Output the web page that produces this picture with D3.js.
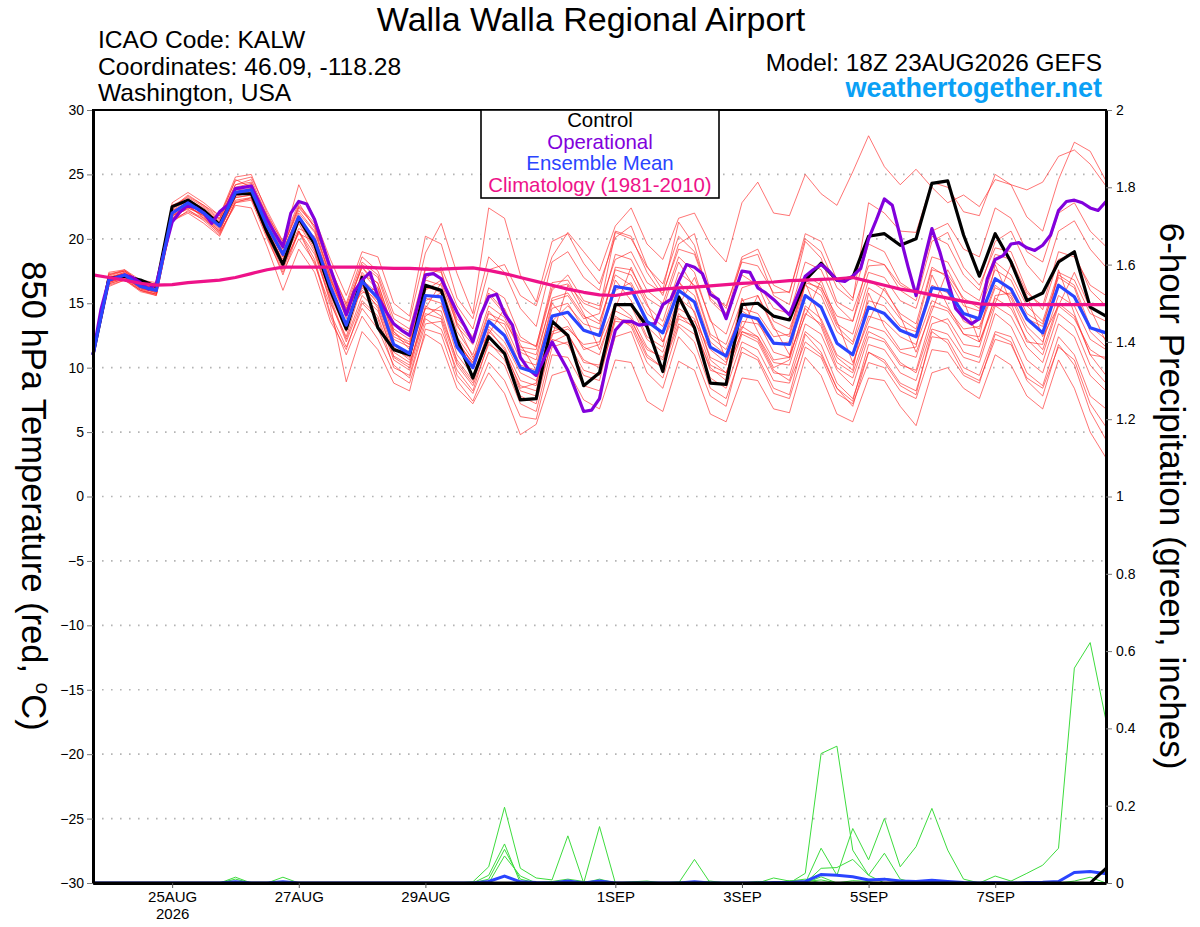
<!DOCTYPE html>
<html>
<head>
<meta charset="utf-8">
<script src="https://cdn.jsdelivr.net/npm/d3@7"></script>
<style>
  body { margin: 0; background: #fff; }
  svg { display: block; font-family: 'Liberation Sans', Arial, Helvetica, sans-serif; }
</style>
</head>
<body>
<div id="chart"></div>
<script>
// GEFS run 18Z 23AUG2026, 6-hourly out to 384 h (operational is 3-hourly)
const runStart = Date.UTC(2026, 7, 23, 18);

const controlTemp = [11.0,16.9,17.1,16.8,16.3,22.5,23.0,22.2,21.1,23.5,
  23.5,20.5,18.0,21.6,19.6,16.0,13.0,17.0,13.1,11.4,
  11.0,16.4,16.0,12.2,9.2,12.4,11.1,7.5,7.6,13.6,
  12.5,8.6,9.6,14.9,14.9,13.2,9.7,15.5,13.1,8.8,
  8.7,14.9,15.0,14.0,13.7,16.8,18.1,16.8,17.0,20.2,
  20.4,19.5,20.0,24.3,24.5,20.3,17.1,20.4,18.2,15.2,
  15.8,18.2,19.0,14.7,14.0];

const operationalTemp = [11.0,14.5,16.8,17.0,17.2,17.0,16.6,16.1,16.5,19.0,
  21.3,22.1,22.6,22.4,22.0,21.2,22.1,22.6,23.9,24.0,
  24.1,22.8,21.5,20.4,19.4,22.0,22.9,22.7,21.5,19.6,
  17.7,15.9,14.1,15.9,16.8,17.4,15.5,14.4,13.4,12.9,
  12.5,14.8,17.2,17.3,16.9,15.6,14.3,13.2,12.0,14.1,
  15.5,15.7,14.2,13.3,10.8,9.9,9.4,10.7,12.0,10.9,
  9.8,8.2,6.6,6.7,7.6,10.5,12.9,13.6,13.6,13.3,
  13.4,13.4,14.9,15.3,16.7,18.0,17.8,17.3,15.7,15.3,
  13.8,15.7,17.5,17.4,16.2,15.8,15.3,14.7,14.1,15.6,
  17.1,17.6,18.0,17.5,16.8,16.7,17.1,17.7,20.0,21.5,
  23.1,22.6,20.2,17.8,15.6,18.3,20.8,19.0,16.8,14.6,
  13.9,13.4,13.8,16.9,18.4,18.7,19.6,19.7,19.3,19.1,
  19.5,20.3,22.2,22.9,23.0,22.8,22.4,22.2,22.9];

const meanTemp = [11.0,16.8,17.2,16.3,16.0,22.0,22.8,22.0,21.0,23.6,
  23.8,21.0,18.8,21.7,19.9,16.3,13.3,16.7,15.4,11.8,
  11.1,15.6,15.5,11.6,10.0,13.6,12.5,10.0,9.6,14.0,
  14.3,12.9,12.5,16.3,16.1,13.6,12.7,16.0,15.1,11.6,
  10.9,14.1,13.8,11.9,11.8,15.6,14.7,11.9,11.0,14.7,
  14.2,12.9,12.4,16.2,16.0,14.2,13.8,16.9,16.1,13.8,
  12.7,16.4,15.5,13.1,12.7];

const climoTemp = [17.2,17.0,16.8,16.55,16.4,16.45,16.6,16.7,16.8,17.0,
  17.3,17.6,17.8,17.8,17.8,17.8,17.8,17.8,17.75,17.7,
  17.7,17.65,17.65,17.7,17.75,17.55,17.3,17.0,16.7,16.4,
  16.1,15.85,15.65,15.6,15.8,15.95,16.1,16.2,16.25,16.35,
  16.45,16.55,16.6,16.65,16.75,16.8,16.85,16.9,17.0,16.7,
  16.4,16.1,15.9,15.65,15.4,15.15,14.95,14.9,14.9,14.9,
  14.9,14.9,14.9,14.9,14.9];

const memberTemps = [
  [11.2,17.2,17.6,16.6,16.3,22.6,23.2,22.5,21.5,24.2, 24.4,21.5,19.3,22.5,21.0,17.4,14.5,17.8,16.5,13.0,
   12.2,17.8,17.5,13.5,12.0,15.8,14.4,12.1,11.7,16.2, 16.5,15.0,14.5,20.5,20.0,17.8,16.5,20.2,19.0,15.6,
   14.8,18.2,17.9,15.8,15.9,20.0,19.0,16.2,15.2,22.8, 22.0,20.6,20.5,24.4,24.0,22.1,21.8,25.0,24.2,21.7,
   20.6,24.6,27.5,26.8,24.5],
  [10.8,16.6,17.0,16.2,15.8,21.8,22.6,21.6,20.6,23.4, 23.9,21.3,19.4,22.4,21.0,17.6,15.0,18.6,17.5,14.2,
   13.6,18.9,21.2,17.3,14.2,22.4,21.6,17.2,15.1,19.8, 20.4,18.1,16.5,20.1,21.0,17.9,16.0,21.3,19.5,15.2,
   14.0,18.4,18.8,15.6,14.9,19.8,18.5,15.1,14.4,17.9, 18.0,16.0,15.2,19.8,20.5,17.8,16.4,19.3,19.0,16.0,
   14.5,18.4,18.9,16.0,14.8],
  [11.1,17.0,17.4,16.4,16.1,22.3,23.1,22.3,21.3,24.0, 24.3,21.8,19.8,22.8,20.8,17.0,14.4,18.0,17.0,13.4,
   12.8,16.9,17.8,14.8,13.0,17.6,18.0,15.6,14.8,18.6, 20.5,19.0,17.5,21.0,22.4,19.6,18.4,21.6,22.0,19.6,
   18.2,22.8,24.4,22.0,21.8,25.0,23.5,22.6,25.2,28.0, 25.6,24.2,25.4,24.0,22.8,23.4,22.5,24.6,24.2,23.8,
   24.4,26.4,26.9,25.8,24.1],
  [10.7,16.3,16.8,16.0,15.7,21.3,22.2,21.6,20.4,22.8, 23.0,20.0,17.4,20.0,18.2,14.0,11.0,14.0,12.2,9.6,
   8.8,12.6,11.8,8.4,7.2,9.6,8.0,4.8,5.6,9.4, 9.8,7.5,6.8,10.6,10.4,7.4,6.6,10.5,9.8,6.4,
   5.8,9.2,9.0,6.8,6.5,10.8,9.4,6.4,5.8,9.2, 9.0,7.0,5.5,9.6,10.0,8.4,7.6,11.0,10.2,7.8,
   6.8,10.6,8.4,5.0,3.0],
  [10.9,16.5,16.9,16.0,15.6,21.6,22.4,21.8,20.8,23.0, 23.2,20.4,17.8,20.6,18.0,14.8,8.9,12.8,11.4,8.8,
   8.2,13.0,12.6,9.0,7.4,10.4,9.0,6.2,6.0,11.0, 10.8,8.6,8.2,12.4,12.8,9.6,8.4,12.4,11.0,7.8,
   7.0,11.6,10.8,8.4,7.9,12.6,11.2,8.4,7.0,11.2, 10.4,8.6,7.9,12.8,11.9,9.6,9.0,12.2,11.8,9.2,
   8.4,11.6,10.6,7.2,5.4],
  [11.0,17.0,17.3,16.5,16.2,22.0,22.9,22.1,21.2,23.8, 24.2,21.2,19.0,22.0,20.5,17.0,13.8,17.4,16.0,12.6,
   12.0,16.8,16.4,12.8,11.0,14.8,13.9,11.2,10.6,15.4, 15.8,14.0,13.4,17.6,17.2,14.8,13.6,17.4,16.4,12.6,
   11.8,15.2,15.6,13.0,12.4,16.8,16.0,13.2,12.0,16.2, 15.4,13.8,13.0,17.6,17.2,15.4,14.6,18.2,17.2,14.8,
   13.6,17.4,16.8,14.2,13.6],
  [10.9,16.6,17.0,16.1,15.9,21.8,22.5,21.8,20.7,23.2, 23.4,20.6,18.4,21.2,19.0,15.4,12.2,15.6,14.4,10.9,
   10.2,14.6,14.4,10.4,8.8,12.4,11.2,8.6,8.2,12.8, 13.2,11.6,11.0,15.0,14.8,12.2,11.2,14.6,13.8,10.2,
   9.6,12.8,12.4,10.4,10.2,14.2,13.4,10.4,9.6,13.2, 12.8,11.2,10.8,14.8,14.4,12.6,12.0,15.4,14.6,12.2,
   11.0,14.8,13.8,11.4,10.6],
  [11.1,17.3,17.5,16.6,16.0,21.6,22.4,21.9,21.6,24.6, 24.0,20.8,18.2,20.8,20.2,16.8,14.2,15.8,16.2,12.8,
   11.4,14.6,16.6,13.4,10.8,12.6,14.6,11.8,9.8,12.4, 16.4,14.2,11.4,14.6,17.8,15.0,12.0,14.8,17.0,13.8,
   10.6,13.0,15.6,13.2,11.0,14.0,16.8,13.6,10.4,13.6, 16.2,14.0,11.2,14.4,17.6,15.2,12.0,15.0,18.0,15.6,
   12.4,14.8,17.4,14.6,12.0],
  [11.0,16.9,17.4,16.6,16.4,22.4,23.4,22.6,21.8,24.5, 24.8,22.2,19.8,24.2,21.6,18.4,15.6,19.0,18.6,15.0,
   14.0,20.2,19.6,15.4,13.8,18.6,17.4,14.6,13.2,18.2, 19.0,17.0,16.0,20.6,20.2,17.4,15.6,19.6,20.4,16.0,
   14.6,18.6,19.2,16.4,15.8,20.4,19.8,16.8,15.4,19.6, 19.0,16.6,15.8,20.2,19.6,17.2,16.0,19.8,20.6,18.0,
   16.6,20.6,21.4,19.2,17.8],
  [10.8,16.4,16.8,15.9,15.6,21.4,22.0,21.2,20.2,22.8, 23.2,20.2,17.6,20.6,18.4,14.2,11.6,14.6,13.0,10.2,
   9.2,13.4,13.6,9.4,8.0,11.2,10.2,7.2,6.6,11.6, 12.0,9.8,9.4,13.6,13.4,10.8,10.0,13.8,13.2,9.8,
   9.4,13.6,13.4,11.8,12.0,16.6,16.2,14.0,13.6,18.4, 18.0,16.4,15.8,20.6,21.2,19.2,18.6,22.4,21.6,19.0,
   18.2,22.0,22.8,20.6,19.4],
  [11.2,17.1,17.5,16.7,16.4,22.8,23.6,22.8,21.8,24.8, 25.0,22.0,19.6,22.6,21.2,17.8,14.8,18.2,17.2,13.8,
   13.0,17.6,17.4,13.2,11.8,16.2,15.4,12.4,11.6,16.6, 16.8,14.6,13.6,17.2,16.4,13.2,12.0,15.4,14.4,10.6,
   9.6,12.8,12.2,9.8,9.0,12.8,11.8,8.8,7.6,11.2, 10.6,8.8,8.2,12.4,12.2,10.0,9.4,12.8,12.4,9.6,
   8.6,12.4,11.0,7.8,6.8],
  [10.9,16.8,17.1,16.2,15.8,22.2,22.7,21.9,20.9,23.3, 23.6,20.8,18.6,21.4,19.6,16.0,13.0,16.4,15.0,11.6,
   10.6,15.2,15.8,12.4,10.6,14.4,13.0,10.2,9.8,15.0, 13.6,11.4,11.8,16.8,15.2,12.4,11.6,16.8,14.2,10.8,
   10.2,15.4,12.8,10.6,10.8,16.6,13.6,10.8,9.8,15.8, 13.2,11.4,11.6,17.2,14.8,12.6,12.4,18.0,15.0,12.0,
   11.8,17.6,14.2,11.0,10.8],
  [11.0,17.4,17.6,16.8,16.6,22.6,23.0,22.0,21.0,23.9, 23.6,20.4,18.2,21.4,19.2,15.0,12.4,16.4,14.6,10.8,
   10.0,14.8,14.0,10.6,9.0,13.0,11.4,8.4,8.8,13.6, 14.8,13.4,13.0,17.8,17.6,15.4,14.6,18.2,16.2,12.4,
   11.4,14.4,13.6,11.2,10.8,14.6,13.2,10.0,9.2,12.8, 12.2,10.4,9.6,13.4,13.8,11.8,11.6,15.6,15.8,13.8,
   13.2,17.2,16.4,13.2,12.2],
  [10.8,16.7,17.0,16.1,15.7,21.8,22.3,21.4,20.3,22.9, 23.1,20.6,18.0,20.4,19.8,16.6,14.0,16.0,14.8,11.2,
   10.4,14.0,14.8,11.8,10.4,13.2,12.0,9.6,9.0,12.6, 13.0,11.8,12.0,15.0,14.0,11.6,10.6,14.0,13.6,11.4,
   10.4,13.2,12.4,10.0,10.6,14.8,13.8,11.0,10.2,14.0, 13.6,12.4,11.8,15.2,14.6,13.0,13.2,16.4,15.4,12.8,
   11.4,15.0,14.0,11.0,9.4],
  [11.1,17.0,17.3,16.4,16.2,22.2,23.0,22.4,21.4,24.0, 23.9,21.6,19.2,21.8,19.4,15.6,12.8,17.2,16.6,12.8,
   11.8,16.2,16.0,12.2,10.2,13.8,13.4,10.6,10.2,14.6, 15.0,13.0,12.4,16.0,16.6,14.2,13.2,16.6,15.6,12.0,
   11.0,14.6,14.2,12.4,12.6,17.2,16.4,13.4,12.6,16.8, 16.0,14.2,13.4,17.8,17.0,14.8,14.4,17.6,16.8,14.2,
   13.4,17.0,16.2,12.8,11.6],
  [10.9,16.6,17.2,16.3,16.0,21.9,22.6,22.1,21.1,23.4, 23.5,20.9,18.6,21.6,19.8,16.2,13.4,16.2,15.2,11.4,
   10.8,15.4,15.0,11.0,9.4,12.8,11.6,9.0,8.6,13.2, 12.6,10.4,10.2,14.4,13.8,11.0,10.0,13.4,12.6,9.2,
   8.4,12.0,11.4,9.0,8.8,12.0,11.0,8.4,7.4,11.8, 11.4,9.6,9.0,13.0,12.6,10.8,10.4,14.2,13.2,10.6,
   9.6,13.4,12.4,9.4,8.2],
  [11.0,16.9,17.2,16.4,16.1,22.0,22.8,22.2,21.2,23.8, 23.8,21.4,19.0,21.4,20.0,16.8,14.2,16.8,15.8,12.2,
   11.6,16.0,16.8,13.8,12.4,15.6,14.2,11.4,11.0,15.2, 15.6,13.8,14.2,18.8,18.4,16.0,15.0,18.6,17.4,13.6,
   12.6,16.2,16.6,14.6,14.2,18.2,17.6,14.8,13.6,17.4, 17.0,15.2,14.6,18.6,18.2,16.0,15.2,18.8,18.4,15.8,
   14.8,19.0,18.6,16.4,15.6],
  [10.8,16.5,16.9,16.0,15.7,21.5,22.1,21.5,20.5,22.6, 22.4,19.4,16.0,19.2,17.4,13.6,11.4,15.0,13.8,10.0,
   9.4,13.8,13.0,9.8,8.2,12.0,10.6,7.8,7.2,12.2, 11.8,9.4,9.0,14.0,13.2,10.4,9.2,13.2,12.0,8.4,
   7.6,11.2,10.6,8.0,7.6,11.6,10.8,8.0,7.2,10.4, 10.0,8.2,7.6,11.4,11.2,9.4,8.8,12.6,12.0,9.0,
   7.8,11.8,10.2,6.6,4.4],
  [11.1,17.2,17.5,16.6,16.3,22.4,23.3,22.6,21.6,24.2, 24.6,21.8,19.4,22.2,20.6,17.2,14.6,17.8,16.2,12.4,
   11.8,16.4,15.8,12.0,10.4,14.2,13.6,11.6,11.4,16.0, 17.2,15.2,14.8,18.4,19.0,16.6,15.8,19.2,18.8,15.4,
   14.2,17.2,16.4,13.6,13.0,16.4,15.6,12.8,11.8,15.2, 14.8,13.2,12.8,16.4,15.8,13.6,13.0,16.2,15.6,13.2,
   12.0,15.6,14.8,12.2,11.4],
  [10.9,16.8,17.0,16.2,15.9,21.7,22.6,21.7,20.6,23.2, 23.4,20.2,17.2,20.6,18.8,15.2,12.0,15.2,14.0,10.6,
   9.8,14.2,13.8,10.2,8.6,11.8,11.0,8.2,7.8,12.0, 12.6,10.6,10.0,13.8,13.6,11.4,10.8,14.2,13.0,10.0,
   9.0,12.6,12.0,9.6,9.4,13.4,12.6,9.8,8.6,12.4, 12.0,10.2,9.8,14.0,13.4,11.2,10.8,14.8,14.0,11.6,
   10.4,14.2,13.2,10.2,8.8]
];

// 6-hour precipitation (inches); members that stay dry are omitted
const memberPrecip = [
  [0,0,0,0,0,0,0,0,0,0, 0,0,0,0,0,0,0,0,0,0, 0,0,0,0,0.003,0.042,0.196,0.038,0.013,0.008,
   0.122,0,0.146,0,0,0,0,0,0,0, 0,0,0,0,0,0,0,0,0,0, 0,0,0,0,0,0,0,0,0,0, 0,0,0,0,0],
  [0,0,0,0,0,0,0,0,0,0, 0,0,0,0,0,0,0,0,0,0, 0,0,0,0,0,0.02,0.101,0,0,0,
   0,0,0,0,0,0,0,0,0.061,0, 0,0,0,0.013,0.005,0.01,0,0,0,0, 0,0,0,0,0,0,0,0,0,0, 0,0,0,0,0],
  [0,0,0,0,0,0,0,0,0,0.015, 0,0,0.015,0,0,0,0,0,0,0, 0,0,0,0,0,0.01,0.087,0.01,0,0,
   0,0,0,0,0,0,0,0,0,0, 0,0,0,0,0,0,0,0,0,0, 0,0,0,0,0,0,0,0,0,0, 0,0,0,0,0],
  [0,0,0,0,0,0,0,0,0,0, 0,0,0,0,0,0,0,0,0,0, 0,0,0,0,0,0,0,0,0,0,
   0,0,0,0,0,0,0,0,0,0, 0,0,0,0,0,0.025,0.335,0.354,0.085,0.02, 0,0,0,0,0,0,0,0,0,0, 0,0,0,0,0],
  [0,0,0,0,0,0,0,0,0,0, 0,0,0,0,0,0,0,0,0,0, 0,0,0,0,0,0,0,0,0,0,
   0,0,0,0,0,0,0,0,0,0, 0,0,0,0,0,0,0.09,0.02,0.141,0.06,
   0.167,0.042,0.094,0.193,0.085,0.01,0,0.018,0.005,0.025, 0.046,0.09,0.556,0.622,0.42],
  [0,0,0,0,0,0,0,0,0,0, 0,0,0,0,0,0,0,0,0,0, 0,0,0,0,0,0,0,0,0,0,
   0,0,0,0,0,0,0,0,0,0, 0,0,0,0,0,0,0.038,0.04,0.061,0.02, 0.077,0.01,0,0,0,0,0,0,0,0, 0,0,0,0,0],
  [0,0,0,0,0,0,0,0,0,0.01, 0,0,0,0,0,0,0,0,0,0, 0,0,0,0,0,0,0,0,0,0,
   0.005,0,0.01,0,0.003,0.005,0,0.003,0,0.005, 0,0,0.004,0,0.006,0.004,0.008,0,0,0,
   0,0,0,0,0,0,0,0,0,0, 0,0,0.005,0.015,0],
  [0,0,0,0,0,0,0,0,0,0, 0,0,0,0,0,0,0,0,0,0, 0,0,0,0,0,0,0.07,0.018,0,0.004,
   0.01,0.004,0,0,0,0,0,0,0,0, 0,0,0,0,0,0,0.016,0,0.006,0.004, 0.012,0.005,0,0.006,0,0,0,0,0,0,
   0,0,0,0,0]
];

const meanPrecip = [0,0,0,0,0,0,0,0,0,0.003, 0,0,0.003,0,0,0,0,0,0,0,
  0,0,0,0,0,0.004,0.018,0.003,0.001,0, 0.005,0,0.005,0,0,0,0,0,0.003,0,
  0,0,0,0.001,0.001,0.004,0.022,0.02,0.016,0.008, 0.01,0.005,0.004,0.007,0.004,0.001,0,0.001,0,0.001,
  0.002,0.004,0.027,0.03,0.024];

const controlPrecip = [0,0,0,0,0,0,0,0,0,0, 0,0,0,0,0,0,0,0,0,0,
  0,0,0,0,0,0,0,0,0,0, 0,0,0,0,0,0,0,0,0,0,
  0,0,0,0,0,0,0,0,0,0, 0,0,0,0,0,0,0,0,0,0,
  0,0,0,0,0.038];

const tempTicks = [30, 25, 20, 15, 10, 5, 0, -5, -10, -15, -20, -25, -30];
const precipTicks = [2, 1.8, 1.6, 1.4, 1.2, 1, 0.8, 0.6, 0.4, 0.2, 0];
const precipTickLabels = ['2', '1.8', '1.6', '1.4', '1.2', '1', '0.8', '0.6', '0.4', '0.2', '0'];
const dayTicks = [[2026, 7, 25], [2026, 7, 27], [2026, 7, 29], [2026, 8, 1], [2026, 8, 3], [2026, 8, 5], [2026, 8, 7]];
const dayLabels = ['25AUG', '27AUG', '29AUG', '1SEP', '3SEP', '5SEP', '7SEP'];

const legendItems = [
  { label: 'Control', color: '#000000' },
  { label: 'Operational', color: '#8200dc' },
  { label: 'Ensemble Mean', color: '#2a44ff' },
  { label: 'Climatology (1981-2010)', color: '#ee1289' }
];

const width = 1200, height = 927;
const plot = { left: 93, right: 1106, top: 110, bottom: 883 };

const svg = d3.select('#chart').append('svg')
  .attr('width', width)
  .attr('height', height);

const x = d3.scaleUtc()
  .domain([new Date(runStart), new Date(runStart + 384 * 36e5)])
  .range([plot.left, plot.right]);
const yT = d3.scaleLinear().domain([-30, 30]).range([plot.bottom, plot.top]);
const yP = d3.scaleLinear().domain([0, 2]).range([plot.bottom, plot.top]);

const timeAt = (i, step) => new Date(runStart + i * step * 36e5);
const tempLine = step => d3.line().x((d, i) => x(timeAt(i, step))).y(d => yT(d));
const precipLine = d3.line().x((d, i) => x(timeAt(i, 6))).y(d => yP(d));

// dotted grid on the temperature ticks
svg.append('g')
  .selectAll('line')
  .data(tempTicks.filter(t => t > -30 && t < 30))
  .join('line')
  .attr('x1', plot.left).attr('x2', plot.right)
  .attr('y1', d => yT(d)).attr('y2', d => yT(d))
  .attr('stroke', '#b4b4b4')
  .attr('stroke-width', 1.6)
  .attr('stroke-dasharray', '1.6,7.4');

// ensemble members
svg.append('g')
  .selectAll('path')
  .data(memberTemps)
  .join('path')
  .attr('d', tempLine(6))
  .attr('fill', 'none')
  .attr('stroke', '#ff2a2a')
  .attr('stroke-opacity', 0.72)
  .attr('stroke-width', 0.9);

svg.append('g')
  .selectAll('path')
  .data(memberPrecip)
  .join('path')
  .attr('d', precipLine)
  .attr('fill', 'none')
  .attr('stroke', '#3ddc3d')
  .attr('stroke-width', 1);

svg.append('path')
  .attr('d', precipLine(meanPrecip))
  .attr('fill', 'none').attr('stroke', '#2a44ff').attr('stroke-width', 3);
svg.append('path')
  .attr('d', precipLine(controlPrecip))
  .attr('fill', 'none').attr('stroke', '#000').attr('stroke-width', 3);

// deterministic + summary lines
const mainLines = [
  { data: controlTemp, step: 6, color: legendItems[0].color },
  { data: operationalTemp, step: 3, color: legendItems[1].color },
  { data: meanTemp, step: 6, color: legendItems[2].color },
  { data: climoTemp, step: 6, color: legendItems[3].color }
];
svg.append('g')
  .selectAll('path')
  .data(mainLines)
  .join('path')
  .attr('d', d => tempLine(d.step)(d.data))
  .attr('fill', 'none')
  .attr('stroke', d => d.color)
  .attr('stroke-width', 3.2)
  .attr('stroke-linejoin', 'round');

// axes
const tickFont = g => g.selectAll('text')
  .style('font-size', '14px')
  .style('font-family', "'Liberation Sans', Arial, sans-serif")
  .attr('fill', '#000');

svg.append('g')
  .attr('transform', `translate(${plot.left},0)`)
  .call(d3.axisLeft(yT).tickValues(tempTicks).tickSize(6).tickSizeOuter(0).tickPadding(3))
  .call(g => g.select('.domain').attr('stroke', '#000').attr('stroke-width', 3))
  .call(g => g.selectAll('.tick line').attr('stroke', '#777'))
  .call(tickFont);

svg.append('g')
  .attr('transform', `translate(${plot.right},0)`)
  .call(d3.axisRight(yP).tickValues(precipTicks)
    .tickFormat((d, i) => precipTickLabels[i]).tickSize(6).tickSizeOuter(0).tickPadding(4))
  .call(g => g.select('.domain').attr('stroke', '#000').attr('stroke-width', 3))
  .call(g => g.selectAll('.tick line').attr('stroke', '#777'))
  .call(tickFont);

const xAxis = svg.append('g')
  .attr('transform', `translate(0,${plot.bottom})`)
  .call(d3.axisBottom(x)
    .tickValues(dayTicks.map(d => new Date(Date.UTC(d[0], d[1], d[2]))))
    .tickFormat((d, i) => dayLabels[i]).tickSize(5).tickSizeOuter(0).tickPadding(3))
  .call(g => g.select('.domain').attr('stroke', '#000').attr('stroke-width', 3))
  .call(g => g.selectAll('.tick line').attr('stroke', '#555'))
  .call(tickFont);
xAxis.selectAll('.tick text').style('font-size', '15px');
xAxis.select('.tick text').append('tspan')
  .attr('x', 0).attr('dy', '1.15em').text('2026');

svg.append('line')
  .attr('x1', plot.left - 1).attr('x2', plot.right + 1)
  .attr('y1', plot.top).attr('y2', plot.top)
  .attr('stroke', '#000').attr('stroke-width', 2);

// legend box
const legend = svg.append('g');
legend.append('rect')
  .attr('x', 481).attr('y', plot.top)
  .attr('width', 238).attr('height', 88)
  .attr('fill', '#fff').attr('stroke', '#000').attr('stroke-width', 1.6);
legend.selectAll('text')
  .data(legendItems)
  .join('text')
  .attr('x', 600)
  .attr('y', (d, i) => 127 + i * 21.5)
  .attr('text-anchor', 'middle')
  .style('font-size', '20.4px')
  .attr('fill', d => d.color)
  .text(d => d.label);

// titles
svg.append('text')
  .attr('x', 591).attr('y', 31)
  .attr('text-anchor', 'middle')
  .style('font-size', '34px')
  .text('Walla Walla Regional Airport');

svg.append('g')
  .selectAll('text')
  .data(['ICAO Code: KALW', 'Coordinates: 46.09, -118.28', 'Washington, USA'])
  .join('text')
  .attr('x', 98)
  .attr('y', (d, i) => 48 + i * 26.5)
  .style('font-size', '24.6px')
  .text(d => d);

svg.append('text')
  .attr('x', 1102).attr('y', 71)
  .attr('text-anchor', 'end')
  .style('font-size', '24.4px')
  .text('Model: 18Z 23AUG2026 GEFS');

svg.append('text')
  .attr('x', 1102).attr('y', 97)
  .attr('text-anchor', 'end')
  .style('font-size', '27px')
  .style('font-weight', 'bold')
  .attr('fill', '#0aa0f5')
  .text('weathertogether.net');

const leftTitle = svg.append('text')
  .attr('transform', 'translate(22,496) rotate(90)')
  .attr('text-anchor', 'middle')
  .style('font-size', '34.5px');
leftTitle.append('tspan').text('850 hPa Temperature (red, ');
leftTitle.append('tspan').attr('dy', -14).style('font-size', '21px').text('o');
leftTitle.append('tspan').attr('dy', 14).text('C)');

svg.append('text')
  .attr('transform', 'translate(1160,496) rotate(90)')
  .attr('text-anchor', 'middle')
  .style('font-size', '35px')
  .text('6-hour Precipitation (green, inches)');
</script>
</body>
</html>
